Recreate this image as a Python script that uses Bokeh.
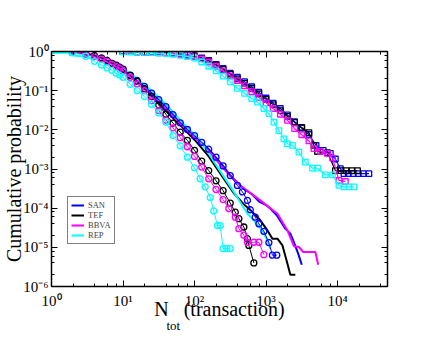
from bokeh.plotting import figure
from bokeh.models import Range1d, LogAxis, LogTicker, Legend, LegendItem, Title, CustomJSTickFormatter
from bokeh.embed import file_html
from bokeh.resources import INLINE

# ---------------- data ----------------
series_names = ["SAN", "TEF", "BBVA", "REP"]
series_colors = ["#0000ff", "#000000", "#ff00ff", "#00ffff"]

# right group (square markers)
san_sq_x = [10, 12.6, 15.8, 20, 25.1, 31.6, 39.8, 50.1, 63.1, 79.4, 100, 126, 158, 200, 251, 316, 398, 501, 631, 794,
            1000, 1259, 1585, 1995, 2512, 3162, 3981, 5012, 6310, 7943, 9330, 10960, 12300, 14130, 16600, 19500, 22900, 27500]
san_sq_y = [1.0, 0.99, 0.98, 0.97, 0.955, 0.945, 0.93, 0.90, 0.87, 0.83, 0.78, 0.69, 0.59, 0.47, 0.37, 0.28, 0.22, 0.17, 0.126, 0.091,
            0.065, 0.048, 0.035, 0.024, 0.0162, 0.011, 0.0076, 0.0040, 0.0030, 0.0025, 0.0018, 0.00102, 0.00076, 0.00076, 0.00076, 0.00076, 0.00076, 0.00076]

tef_sq_x = [10, 12.6, 15.8, 20, 25.1, 31.6, 39.8, 50.1, 63.1, 79.4, 100, 126, 158, 200, 251, 316, 398, 501, 631, 794,
            1000, 1259, 1585, 1995, 2512, 3162, 3981, 4677, 5248, 7244, 9333, 11220, 13180, 15850, 19050]
tef_sq_y = [1.0, 0.99, 0.98, 0.97, 0.955, 0.94, 0.925, 0.90, 0.86, 0.82, 0.76, 0.67, 0.57, 0.45, 0.35, 0.265, 0.20, 0.155, 0.115, 0.083,
            0.06, 0.044, 0.031, 0.022, 0.0155, 0.0115, 0.0085, 0.0040, 0.0028, 0.0026, 0.00091, 0.00091, 0.00091, 0.00091, 0.00091]

bbva_sq_x = [10, 12.6, 15.8, 20, 25.1, 31.6, 39.8, 50.1, 63.1, 79.4, 100, 126, 158, 200, 251, 316, 398, 501, 631, 794,
             1000, 1259, 1585, 1995, 2512, 3162, 3981, 4677, 5754, 7244, 8511, 10470, 12880]
bbva_sq_y = [1.0, 0.99, 0.98, 0.97, 0.95, 0.93, 0.915, 0.89, 0.85, 0.80, 0.74, 0.65, 0.54, 0.42, 0.32, 0.24, 0.18, 0.132, 0.095, 0.068,
             0.049, 0.035, 0.025, 0.0175, 0.0107, 0.0075, 0.0052, 0.0033, 0.0028, 0.0025, 0.0019, 0.00051, 0.00048]

rep_sq_x = [10, 12.6, 15.8, 20, 25.1, 31.6, 39.8, 50.1, 63.1, 79.4, 100, 126, 158, 200, 251, 316, 398, 501, 631,
            759, 933, 1096, 1288, 1514, 1778, 1995, 2344, 2884, 3548, 4467, 5248, 6761, 8511, 10470, 12300, 14450, 16980]
rep_sq_y = [0.98, 0.97, 0.96, 0.95, 0.935, 0.915, 0.89, 0.85, 0.80, 0.74, 0.68, 0.54, 0.42, 0.32, 0.235, 0.168, 0.115, 0.085, 0.063,
            0.051, 0.035, 0.026, 0.0158, 0.0095, 0.0059, 0.0044, 0.0040, 0.0027, 0.0015, 0.00105, 0.00105, 0.00071, 0.00071, 0.00038, 0.00035, 0.00035, 0.00035]

# left group (circle markers)
san_ci_x = [2, 3, 4, 5, 6, 7, 8, 9, 10, 12.6, 15.8, 20, 25.1, 31.6, 39.8, 50.1, 63.1, 79.4, 100, 126, 158, 200, 251, 316, 398,
            468, 550, 603, 708, 794, 933, 1096, 1230, 1413]
san_ci_y = [1.0, 0.89, 0.78, 0.68, 0.59, 0.50, 0.45, 0.40, 0.355, 0.25, 0.182, 0.129, 0.087, 0.059, 0.039, 0.0245, 0.0151, 0.0102, 0.0071,
            0.0048, 0.0032, 0.0020, 0.0012, 0.00068, 0.00038, 0.00026, 0.000158, 0.000091, 0.000059, 0.000040, 0.0000257, 0.0000132, 0.0000063, 0.0000063]

tef_ci_x = [2, 3, 4, 5, 6, 7, 8, 9, 10, 12.6, 15.8, 20, 25.1, 31.6, 39.8, 50.1, 63.1, 79.4, 100, 126, 158, 200, 251, 316,
            372, 417, 490, 550, 575, 676]
tef_ci_y = [1.0, 0.89, 0.78, 0.68, 0.59, 0.50, 0.44, 0.39, 0.35, 0.245, 0.174, 0.112, 0.071, 0.043, 0.025, 0.0148, 0.0087, 0.0054, 0.0030,
            0.00158, 0.00091, 0.0005, 0.00028, 0.000135, 0.000079, 0.000054, 0.000033, 0.0000166, 0.0000112, 0.000004]

bbva_ci_x = [2, 3, 4, 5, 6, 7, 8, 9, 10, 12.6, 15.8, 20, 25.1, 31.6, 39.8, 50.1, 63.1, 79.4, 100, 126, 158, 200, 251,
             302, 372, 417, 490, 550, 676, 794, 933]
bbva_ci_y = [1.0, 0.87, 0.74, 0.64, 0.55, 0.47, 0.41, 0.37, 0.32, 0.22, 0.148, 0.10, 0.056, 0.031, 0.0178, 0.0112, 0.0063, 0.0037, 0.0021,
             0.00112, 0.00056, 0.0003, 0.000166, 0.000098, 0.000059, 0.00003, 0.0000204, 0.0000135, 0.0000135, 0.0000135, 0.0000065]

rep_ci_x = [2, 3, 4, 5, 6, 7, 8, 9, 10, 12.6, 15.8, 20, 25.1, 31.6, 39.8, 50.1, 63.1, 79.4, 100,
            120, 141, 166, 186, 209, 229, 251, 282, 316]
rep_ci_y = [0.95, 0.76, 0.56, 0.45, 0.38, 0.33, 0.28, 0.25, 0.22, 0.145, 0.10, 0.071, 0.045, 0.027, 0.0158, 0.0072, 0.0039, 0.002, 0.00107,
            0.00056, 0.00035, 0.000186, 0.000085, 0.000036, 0.000036, 0.0000093, 0.0000093, 0.0000093]

# left group (plain thick lines)
san_ln_x = [1, 2, 3, 4, 5, 7, 10, 15.8, 25.1, 39.8, 63.1, 100, 158, 251, 316, 398, 501, 631, 794, 1000, 1148, 1413, 1862, 2188, 2399, 2818, 3162]
san_ln_y = [1.0, 0.99, 0.89, 0.78, 0.68, 0.50, 0.355, 0.182, 0.087, 0.039, 0.0151, 0.0071, 0.0032, 0.0012, 0.00069, 0.00045, 0.0003, 0.00023,
            0.00015, 0.00012, 0.000098, 0.000066, 0.00003, 0.0000224, 0.0000151, 0.0000069, 0.0000036]

tef_ln_x = [1, 2, 3, 4, 5, 7, 10, 15.8, 20, 39.8, 63.1, 100, 158, 251, 355, 501, 631, 832, 1047, 1230, 1445, 1698, 1995, 2188, 2570]
tef_ln_y = [1.0, 0.97, 0.88, 0.78, 0.68, 0.50, 0.36, 0.18, 0.12, 0.030, 0.0132, 0.0056, 0.0021, 0.0006, 0.00024, 0.00012, 0.000083,
            0.000049, 0.000027, 0.0000166, 0.0000166, 0.0000112, 0.0000038, 0.000002, 0.000002]

bbva_ln_x = [1, 2, 3, 4, 5, 7, 10, 15.8, 25.1, 39.8, 63.1, 100, 158, 251, 316, 437, 832, 1445, 1995, 2455, 2884, 3311, 4898, 5370]
bbva_ln_y = [1.0, 0.98, 0.88, 0.77, 0.67, 0.49, 0.35, 0.175, 0.083, 0.036, 0.0145, 0.0065, 0.0029, 0.00105, 0.00066, 0.00038, 0.000158,
             0.000072, 0.000027, 0.0000107, 0.0000102, 0.0000076, 0.0000076, 0.0000036]

rep_ln_x = [1, 1.74, 1.82, 2, 3, 4, 5, 7, 10, 15.8, 25.1, 39.8, 70.8, 120, 209, 355, 550, 676, 891, 1047, 1148]
rep_ln_y = [0.93, 0.93, 0.80, 0.79, 0.74, 0.66, 0.59, 0.48, 0.37, 0.20, 0.10, 0.045, 0.014, 0.0054, 0.00112, 0.00026, 0.000072, 0.000049,
            0.000027, 0.000015, 0.0000093]

x_label_main = "N\u00a0\u00a0\u00a0(transaction)"
x_label_sub = "tot"
y_label = "Cumulative probability"

# ---------------- figure ----------------
FONT = "Liberation Serif"
W, H = 430, 337
p = figure(width=W, height=H,
           x_axis_type="log", y_axis_type="log",
           x_range=Range1d(1, 5.0e4), y_range=Range1d(1e-6, 1),
           output_backend="svg", toolbar_location=None,
           min_border_left=51, min_border_right=43, min_border_top=51, min_border_bottom=51)
p.xgrid.visible = False
p.ygrid.visible = False
p.outline_line_color = "black"
p.background_fill_color = "white"
p.border_fill_color = "white"

p.add_layout(LogAxis(), "above")
p.add_layout(LogAxis(), "right")

pow_fmt = CustomJSTickFormatter(code="""
const sup = {'0':'\u2070','1':'\u00b9','2':'\u00b2','3':'\u00b3','4':'\u2074','5':'\u2075',
             '6':'\u2076','7':'\u2077','8':'\u2078','9':'\u2079','-':'\u207b'};
const e = Math.round(Math.log10(tick));
return '10' + String(e).split('').map(c => sup[c]).join('');
""")
blank_fmt = CustomJSTickFormatter(code="return ' ';")

for ax in p.axis:
    ax.axis_line_width = 1.5
    ax.axis_line_color = "black"
    ax.major_tick_in = 6
    ax.major_tick_out = 0
    ax.minor_tick_in = 3
    ax.minor_tick_out = 0
    ax.major_tick_line_color = "black"
    ax.minor_tick_line_color = "black"
    ax.major_label_text_font = FONT
    ax.major_label_text_font_size = "15px"
    ax.major_label_text_color = "black"
    ax.ticker = LogTicker(desired_num_ticks=8)
    ax.formatter = pow_fmt
    ax.axis_label_text_font = FONT
    ax.axis_label_text_font_style = "normal"
    ax.axis_label_text_font_size = "20px"
    ax.axis_label_text_color = "black"

xa = p.below[0]
xa.major_label_standoff = 6
xa.axis_label = x_label_main
xa.axis_label_standoff = -14

ya = p.left[0]
ya.major_label_standoff = 3
ya.axis_label = y_label
ya.axis_label_standoff = -5

for ax in (p.above[0], p.right[0]):
    ax.formatter = blank_fmt
    ax.major_label_text_font_size = "2px"
    ax.major_label_standoff = 0

p.add_layout(Title(text=x_label_sub, align="left", offset=115, standoff=-13,
                   text_font=FONT, text_font_size="13px", text_font_style="normal",
                   text_color="black"), "below")

# plain lines
line_sets = [(san_ln_x, san_ln_y), (tef_ln_x, tef_ln_y), (bbva_ln_x, bbva_ln_y), (rep_ln_x, rep_ln_y)]
line_rs = []
for (xs, ys), c in zip(line_sets, series_colors):
    line_rs.append(p.line(xs, ys, line_color=c, line_width=2))

# circle curves
ci_sets = [(san_ci_x, san_ci_y), (tef_ci_x, tef_ci_y), (bbva_ci_x, bbva_ci_y), (rep_ci_x, rep_ci_y)]
for (xs, ys), c in zip(ci_sets, series_colors):
    p.line(xs, ys, line_color=c, line_width=1)
    p.scatter(xs, ys, marker="circle", size=6, line_color=c, fill_color=None, line_width=1.3)

# square curves
sq_sets = [(san_sq_x, san_sq_y), (tef_sq_x, tef_sq_y), (bbva_sq_x, bbva_sq_y), (rep_sq_x, rep_sq_y)]
for (xs, ys), c in zip(sq_sets, series_colors):
    p.line(xs, ys, line_color=c, line_width=1.2)
    p.scatter(xs, ys, marker="square", size=5.5, line_color=c, fill_color=None, line_width=1.3)

legend = Legend(items=[LegendItem(label=n, renderers=[r]) for n, r in zip(series_names, line_rs)],
                location=(16, 42), border_line_color="black", border_line_width=1,
                label_text_font=FONT, label_text_font_size="8.5px", label_text_line_height=1.0,
                glyph_width=13, glyph_height=8, label_height=8, label_standoff=4,
                spacing=-2, padding=3, margin=0, background_fill_alpha=1)
p.add_layout(legend, "center")

open("out.html", "w").write(file_html(p, INLINE))
